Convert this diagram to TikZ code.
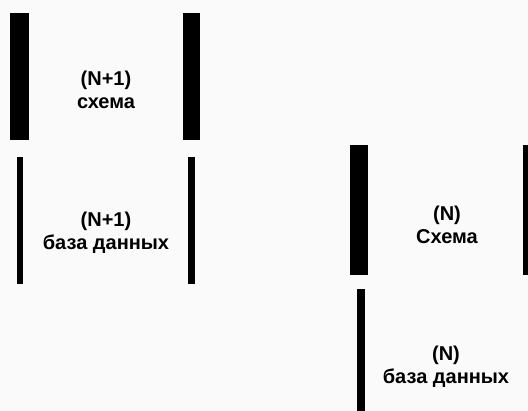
\documentclass[tikz,border=0pt]{standalone}
\usepackage{fontspec}
\setmainfont{Liberation Sans}
\begin{document}
\begin{tikzpicture}[x=1pt,y=-1pt,
  thickbar/.style={fill=black,draw=none},
  thinbar/.style={fill=black,draw=none},
  lbl/.style={align=center,font=\bfseries\fontsize{20}{23}\selectfont,inner sep=0pt}]
\fill[white!98!black] (0,0) rectangle (528,411);
\useasboundingbox (0,0) rectangle (528,411);
% (N+1) schema
\fill[thickbar] (10,13) rectangle (29,140);
\fill[thickbar] (183,13) rectangle (200,140);
\node[lbl] (s1) at (106,90) {(N+1)\\схема};
% (N+1) database
\fill[thinbar] (17,157) rectangle (23,284);
\fill[thinbar] (188,157) rectangle (195,284);
\node[lbl] (d1) at (106,233) {(N+1)\\база данных};
% (N) schema
\fill[thickbar] (350,145) rectangle (368,275);
\fill[thickbar] (523,145) rectangle (540,275);
\node[lbl] (s2) at (447,225) {(N)\\Схема};
% (N) database
\fill[thinbar] (357,289) rectangle (365,420);
\node[lbl] (d2) at (446,367) {(N)\\база данных};
\end{tikzpicture}
\end{document}
